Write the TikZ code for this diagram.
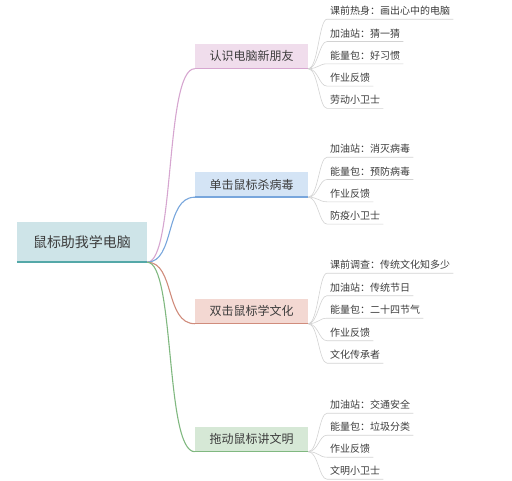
\documentclass[tikz,border=0pt]{standalone}
\usepackage{fontspec}
\setmainfont{Noto Sans CJK SC}
\usetikzlibrary{positioning}
\definecolor{rootfill}{RGB}{206,228,232}
\definecolor{rootline}{RGB}{84,168,168}
\definecolor{pinkfill}{RGB}{240,221,236}
\definecolor{pinkline}{RGB}{214,166,208}
\definecolor{bluefill}{RGB}{212,228,245}
\definecolor{blueline}{RGB}{120,166,220}
\definecolor{redfill}{RGB}{243,216,210}
\definecolor{redline}{RGB}{208,140,124}
\definecolor{greenfill}{RGB}{214,232,214}
\definecolor{greenline}{RGB}{128,184,128}
\definecolor{inkgray}{RGB}{60,60,60}

\begin{document}
\begin{tikzpicture}[
    x=1pt, y=-1pt,
    every node/.style={text=inkgray},
    rootbox/.style={fill=rootfill, minimum width=130pt, minimum height=40pt, font=\fontsize{14}{16}\selectfont},
    branchbox/.style={minimum width=113pt, minimum height=25pt, font=\fontsize{12}{14}\selectfont},
    leaf/.style={anchor=west, minimum height=16pt, inner xsep=3pt, inner ysep=0pt, font=\fontsize{10}{12}\selectfont},
    twig/.style={draw=gray!35, line width=0.6pt},
]
  \useasboundingbox (0,0) rectangle (512,480);

  % Root
  \node[rootbox] (root) at (82,242) {鼠标助我学电脑};
  \draw[rootline, line width=2pt] (root.south west) -- (root.south east);

  % Branch 1
  \node[branchbox, fill=pinkfill] (know) at (251.5,56) {认识电脑新朋友};
  \draw[pinkline, line width=1.5pt] (know.south west) -- (know.south east);
  \draw[pinkline, line width=1.1pt] (root.south east) .. controls +(28,0) and +(-30,0) .. (know.south west);
  \foreach \txt [count=\i] in {课前热身：画出心中的电脑, 加油站：猜一猜, 能量包：好习惯, 作业反馈, 劳动小卫士} {
    \node[leaf] (k\i) at (327, 11+22.3*\i-22.3) {\txt};
    \draw[twig] (know.south east) .. controls +(10,0) and +(-8,0) .. (k\i.south west) -- (k\i.south east);
  }

  % Branch 2
  \node[branchbox, fill=bluefill] (virus) at (251.5,184.5) {单击鼠标杀病毒};
  \draw[blueline, line width=1.5pt] (virus.south west) -- (virus.south east);
  \draw[blueline, line width=1.1pt] (root.south east) .. controls +(28,0) and +(-30,0) .. (virus.south west);
  \foreach \txt [count=\i] in {加油站：消灭病毒, 能量包：预防病毒, 作业反馈, 防疫小卫士} {
    \node[leaf] (v\i) at (327, 149+22.3*\i-22.3) {\txt};
    \draw[twig] (virus.south east) .. controls +(10,0) and +(-8,0) .. (v\i.south west) -- (v\i.south east);
  }

  % Branch 3
  \node[branchbox, fill=redfill] (culture) at (251.5,311) {双击鼠标学文化};
  \draw[redline, line width=1.5pt] (culture.south west) -- (culture.south east);
  \draw[redline, line width=1.1pt] (root.south east) .. controls +(28,0) and +(-30,0) .. (culture.south west);
  \foreach \txt [count=\i] in {课前调查：传统文化知多少, 加油站：传统节日, 能量包：二十四节气, 作业反馈, 文化传承者} {
    \node[leaf] (c\i) at (327, 265+22.5*\i-22.5) {\txt};
    \draw[twig] (culture.south east) .. controls +(10,0) and +(-8,0) .. (c\i.south west) -- (c\i.south east);
  }

  % Branch 4
  \node[branchbox, fill=greenfill] (manners) at (251.5,439) {拖动鼠标讲文明};
  \draw[greenline, line width=1.5pt] (manners.south west) -- (manners.south east);
  \draw[greenline, line width=1.1pt] (root.south east) .. controls +(28,0) and +(-30,0) .. (manners.south west);
  \foreach \txt [count=\i] in {加油站：交通安全, 能量包：垃圾分类, 作业反馈, 文明小卫士} {
    \node[leaf] (m\i) at (327, 405+22*\i-22) {\txt};
    \draw[twig] (manners.south east) .. controls +(10,0) and +(-8,0) .. (m\i.south west) -- (m\i.south east);
  }
\end{tikzpicture}
\end{document}
